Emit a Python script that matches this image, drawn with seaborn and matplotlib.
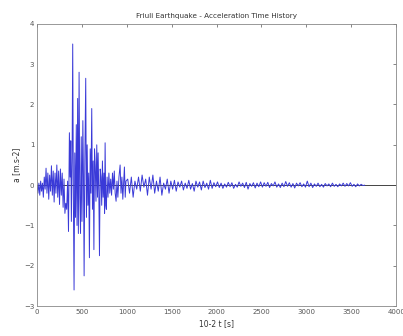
import numpy as np
import pandas as pd
import matplotlib
matplotlib.use("Agg")
import matplotlib.pyplot as plt
import seaborn as sns

# pre-event noise, t in 10^-2 s
t_pre = np.arange(0, 340, 10)
a_pre = [0.0, -0.2, 0.05, -0.25, 0.1, -0.15, 0.05, -0.3, 0.2, -0.1,
         0.42, -0.2, 0.3, -0.35, 0.25, -0.15, 0.48, -0.25, 0.35, -0.42,
         0.3, -0.2, 0.5, -0.3, 0.35, -0.48, 0.4, -0.25, 0.3, -0.55,
         0.15, -0.7, -0.45, -0.6]

# strong motion turning points
t_strong = [340, 350, 360, 368, 375, 382, 390, 397, 405, 412,
            420, 428, 437, 445, 452, 460, 468, 476, 484, 492,
            500, 510, 517, 524, 532, 542, 550, 558, 566, 575,
            583, 592, 600, 609, 617, 625, 633, 640, 648, 656,
            665, 673, 680, 688, 695, 703, 712, 720, 728, 736,
            745, 752, 758, 765, 772, 780, 790, 800, 810, 820,
            830, 840, 850, 860, 870, 880, 890, 900, 912, 925,
            935, 945, 955, 965, 973, 982, 990]
a_strong = [0.1, -1.15, 1.3, 0.2, 1.1, -0.9, 0.6, 3.5, -0.5, -2.6,
            0.8, -0.8, 1.5, -1.0, 2.15, -1.2, 2.8, -0.3, -1.2, 1.2,
            -0.9, 1.6, 0.2, -2.25, 0.6, 2.65, -0.8, 1.0, -0.5, 0.3,
            -1.8, 0.9, -0.2, 1.9, -0.6, 0.6, -1.6, 0.9, 0.5, -0.4,
            1.0, -0.3, 0.8, -0.2, -1.75, 0.4, 0.2, -0.5, 0.6, -0.3,
            0.3, -0.7, 1.05, -0.5, -0.6, 0.2, -0.3, 0.3, -0.2, 0.15,
            -0.25, 0.3, -0.1, 0.35, -0.2, -0.4, 0.1, -0.3, 0.2, 0.5,
            -0.2, 0.2, -0.35, 0.1, 0.45, -0.3, 0.1]

# coda, sampled every 20
t_tail = np.arange(1010, 3660, 20)
a_tail_1 = [0.15, -0.2, 0.2, -0.3, 0.1, -0.1, 0.2, -0.15, 0.25, -0.05,
            0.15, -0.25, 0.2, -0.1, 0.25, -0.2, 0.1, -0.15, 0.2, -0.25,
            0.05, -0.1, 0.15, -0.2, 0.1]
a_tail_2 = [-0.1, 0.12, -0.15, 0.08, -0.05, 0.1, -0.12, 0.05, -0.08, 0.12,
            -0.1, 0.04, -0.15, 0.1, -0.05, 0.08, -0.12, 0.1, -0.06, 0.05,
            -0.1, 0.12, -0.08, 0.06, -0.04]
a_tail_3 = [0.08, -0.06, 0.05, -0.08, 0.03, -0.05, 0.07, -0.04, 0.06, -0.08,
            0.02, -0.05, 0.08, -0.03, 0.05, -0.06, 0.07, -0.1, 0.04, -0.03,
            0.06, -0.07, 0.05, -0.04, 0.08]
a_tail_4 = [-0.05, 0.06, -0.03, 0.07, -0.06, 0.04, -0.02, 0.08, -0.05, 0.03,
            -0.06, 0.05, -0.04, 0.09, -0.03, 0.06, -0.05, 0.04, -0.07, 0.05,
            -0.02, 0.06, -0.04, 0.03, -0.05]
a_tail_5 = [0.1, -0.04, 0.05, -0.06, 0.03, -0.03, 0.05, -0.04, 0.02, -0.05,
            0.04, -0.02, 0.03, -0.04, 0.05, -0.03, 0.02, -0.04, 0.03, -0.02,
            0.05, -0.03, 0.04, -0.02, 0.06, -0.03, 0.02, -0.04, 0.03, -0.02,
            0.02, -0.01, 0.0]

x_ticks = [0, 500, 1000, 1500, 2000, 2500, 3000, 3500, 4000]
y_ticks = [-3, -2, -1, 0, 1, 2, 3, 4]

a_tail = a_tail_1 + a_tail_2 + a_tail_3 + a_tail_4 + a_tail_5
df = pd.DataFrame({
    "t": np.concatenate([t_pre, t_strong, t_tail]),
    "a": np.concatenate([a_pre, a_strong, a_tail]),
})

sns.set_style("white")
plt.rcParams["font.family"] = ["DejaVu Sans"]

fig = plt.figure(figsize=(4.03, 3.36), dpi=100)
ax = fig.add_axes([0.092, 0.089, 0.891, 0.84])

ax.axhline(0, color="#444444", lw=0.7, zorder=1)
sns.lineplot(data=df, x="t", y="a", sort=False, estimator=None,
             color="#3a3ad8", lw=0.7, ax=ax, zorder=2)

ax.set_xlim(0, 4000)
ax.set_ylim(-3, 4)
ax.set_xticks(x_ticks)
ax.set_yticks(y_ticks)
ax.tick_params(direction="in", length=2.5, width=0.5, labelsize=5,
               colors="#555555", top=True, right=True, pad=2)
for s in ax.spines.values():
    s.set_color("#888888")
    s.set_linewidth(0.6)

ax.set_title("Friuli Earthquake - Acceleration Time History",
             fontsize=5.2, color="#333333", pad=4)
ax.set_xlabel("10-2 t [s]", fontsize=5.5, color="#333333", labelpad=3)
ax.set_ylabel("a [m.s-2]", fontsize=5.5, color="#333333", labelpad=2)

fig.savefig("out.png", dpi=100)
